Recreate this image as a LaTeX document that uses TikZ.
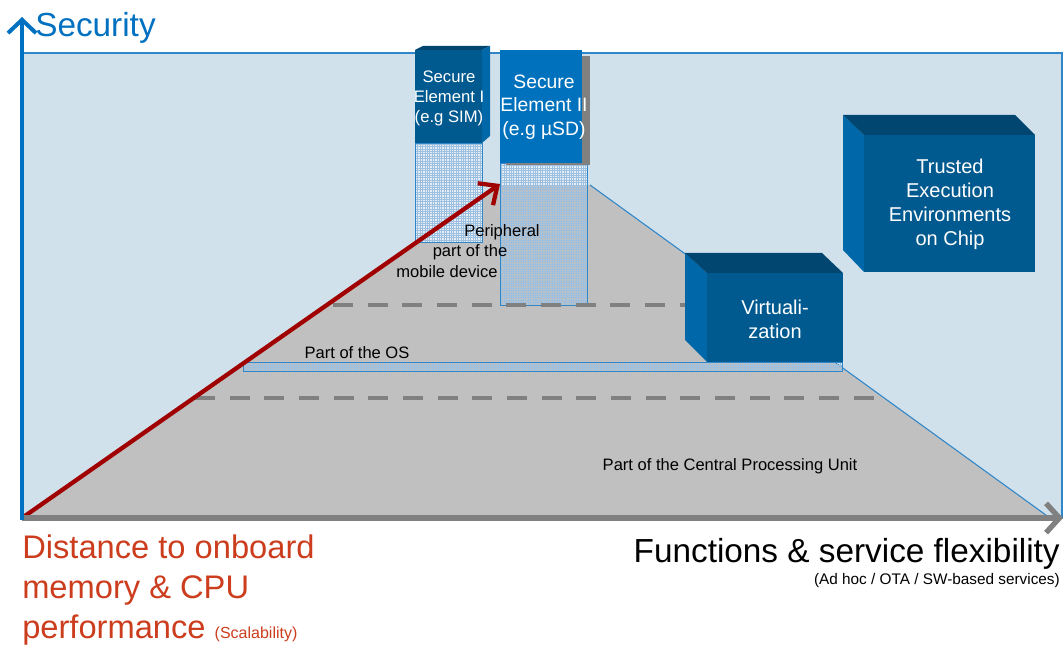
\documentclass[tikz,border=0pt]{standalone}
\usepackage{fontspec}
\setmainfont{Liberation Sans}
\usetikzlibrary{arrows.meta}

\definecolor{bgblue}{HTML}{D0E1EC}
\definecolor{axisblue}{HTML}{0070C0}
\definecolor{edgeblue}{HTML}{2F86C8}
\definecolor{cpugray}{HTML}{C0C0C0}
\definecolor{dashgray}{HTML}{808080}
\definecolor{arrowred}{HTML}{A00000}
\definecolor{textred}{HTML}{CC3D1E}
\definecolor{boxfront}{HTML}{005A8F}
\definecolor{boxside}{HTML}{0068A8}
\definecolor{boxtop}{HTML}{004670}
\definecolor{sefront}{HTML}{0071BC}
\definecolor{hatchblue}{HTML}{9DC0E0}
\definecolor{colwhite}{HTML}{E6EFF7}

\tikzset{
  boxlabel/.style={text=white, align=center, inner sep=0pt},
  smalltext/.style={font=\fontsize{12.4}{15}\selectfont, inner sep=0pt},
  colgrid/.style={draw=hatchblue, line width=0.3pt, step=1.8pt},
  coledge/.style={draw=edgeblue, line width=0.6pt},
  gapline/.style={draw=dashgray, line width=3pt, dash pattern=on 15pt off 11pt},
}

\begin{document}
\begin{tikzpicture}[x=0.75pt,y=-0.75pt]

\useasboundingbox (0,0) rectangle (1064,645);

\coordinate (orig) at (22,518);
\coordinate (ytop) at (22,17);
\coordinate (xend) at (1063,518);
\coordinate (sefoot) at (500,184);

\draw[fill=bgblue, draw=edgeblue, line width=0.8pt] (22,53) rectangle (1062,518);

\fill[cpugray] (22,518) -- (500,185) -- (590,185) -- (1050,518) -- cycle;
\draw[edgeblue, line width=0.8pt] (590,185) -- (1050,518);

\fill[colwhite] (500,163) rectangle (587,185);
\draw[colgrid] (500,305) grid (587,163);
\draw[coledge] (500,163) rectangle (587,305);

\fill[colwhite] (415,143) rectangle (482,242);
\draw[colgrid] (415,242) grid (482,143);
\draw[coledge] (415,143) rectangle (482,242);

\draw[gapline] (333,305) -- (690,305);
\draw[gapline] (195,398) -- (885,398);

\draw[colgrid] (243,371) grid (842,362);
\draw[coledge] (243,362) rectangle (842,371);

\fill[boxside] (685,253) -- (707,273) -- (707,362) -- (685,340) -- cycle;
\fill[boxtop] (685,253) -- (822,253) -- (843,273) -- (707,273) -- cycle;
\fill[boxfront] (707,273) rectangle (843,362);
\node[boxlabel, font=\fontsize{15}{18}\selectfont] (virt) at (775,319) {Virtuali-\\zation};

\fill[boxside] (843,115) -- (864,135) -- (864,272) -- (843,250) -- cycle;
\fill[boxtop] (843,115) -- (1015,115) -- (1035,135) -- (864,135) -- cycle;
\fill[boxfront] (864,135) rectangle (1035,272);
\node[boxlabel, font=\fontsize{15}{18}\selectfont] (tee) at (950,204) {Trusted\\Execution\\Environments\\on Chip};

\fill[boxtop] (415,50) -- (423,46) -- (490,46) -- (482,50) -- cycle;
\fill[boxside] (482,50) -- (490,46) -- (490,136) -- (482,143) -- cycle;
\fill[boxfront] (415,50) rectangle (482,143);
\node[boxlabel, font=\fontsize{12.5}{15}\selectfont] (sim) at (449,98) {Secure\\Element I\\(e.g SIM)};

\fill[dashgray] (506,56) rectangle (590,165);
\fill[sefront] (500,50) rectangle (582,163);
\node[boxlabel, font=\fontsize{14.5}{17.6}\selectfont] (usd) at (544,107) {Secure\\Element II\\(e.g µSD)};

\node[smalltext] (per1) at (502,232) {Peripheral};
\node[smalltext] (per2) at (470,252) {part of the};
\node[smalltext] (per3) at (447,272) {mobile device};

\node[smalltext] (os) at (357,353) {Part of the OS};
\node[smalltext] (cpu) at (730,466) {Part of the Central Processing Unit};

\draw[arrowred, line width=3.2pt, -{Straight Barb[length=11pt,width=20pt]}] (orig) -- (sefoot);

\draw[dashgray, line width=4pt, -{Straight Barb[length=10pt,width=22pt]}] (orig) -- (xend);
\draw[axisblue, line width=3pt, -{Straight Barb[length=10pt,width=21pt]}] ([yshift=-1.5pt]orig) -- (ytop);

\node[anchor=base west, text=axisblue, font=\fontsize{25}{30}\selectfont, inner sep=0pt] (sec) at (35,37) {Security};

\node[anchor=north west, align=left, text=textred, font=\fontsize{24.5}{30}\selectfont, inner sep=0pt] (dist) at (22,535)
  {Distance to onboard\\memory \& CPU\\performance {\fontsize{12}{14}\selectfont(Scalability)}};

\node[anchor=base east, font=\fontsize{25}{30}\selectfont, inner sep=0pt] (func) at (1060,562) {Functions \& service flexibility};
\node[anchor=base east, font=\fontsize{11.5}{14}\selectfont, inner sep=0pt] (adhoc) at (1060,584) {(Ad hoc / OTA / SW-based services)};

\end{tikzpicture}
\end{document}
